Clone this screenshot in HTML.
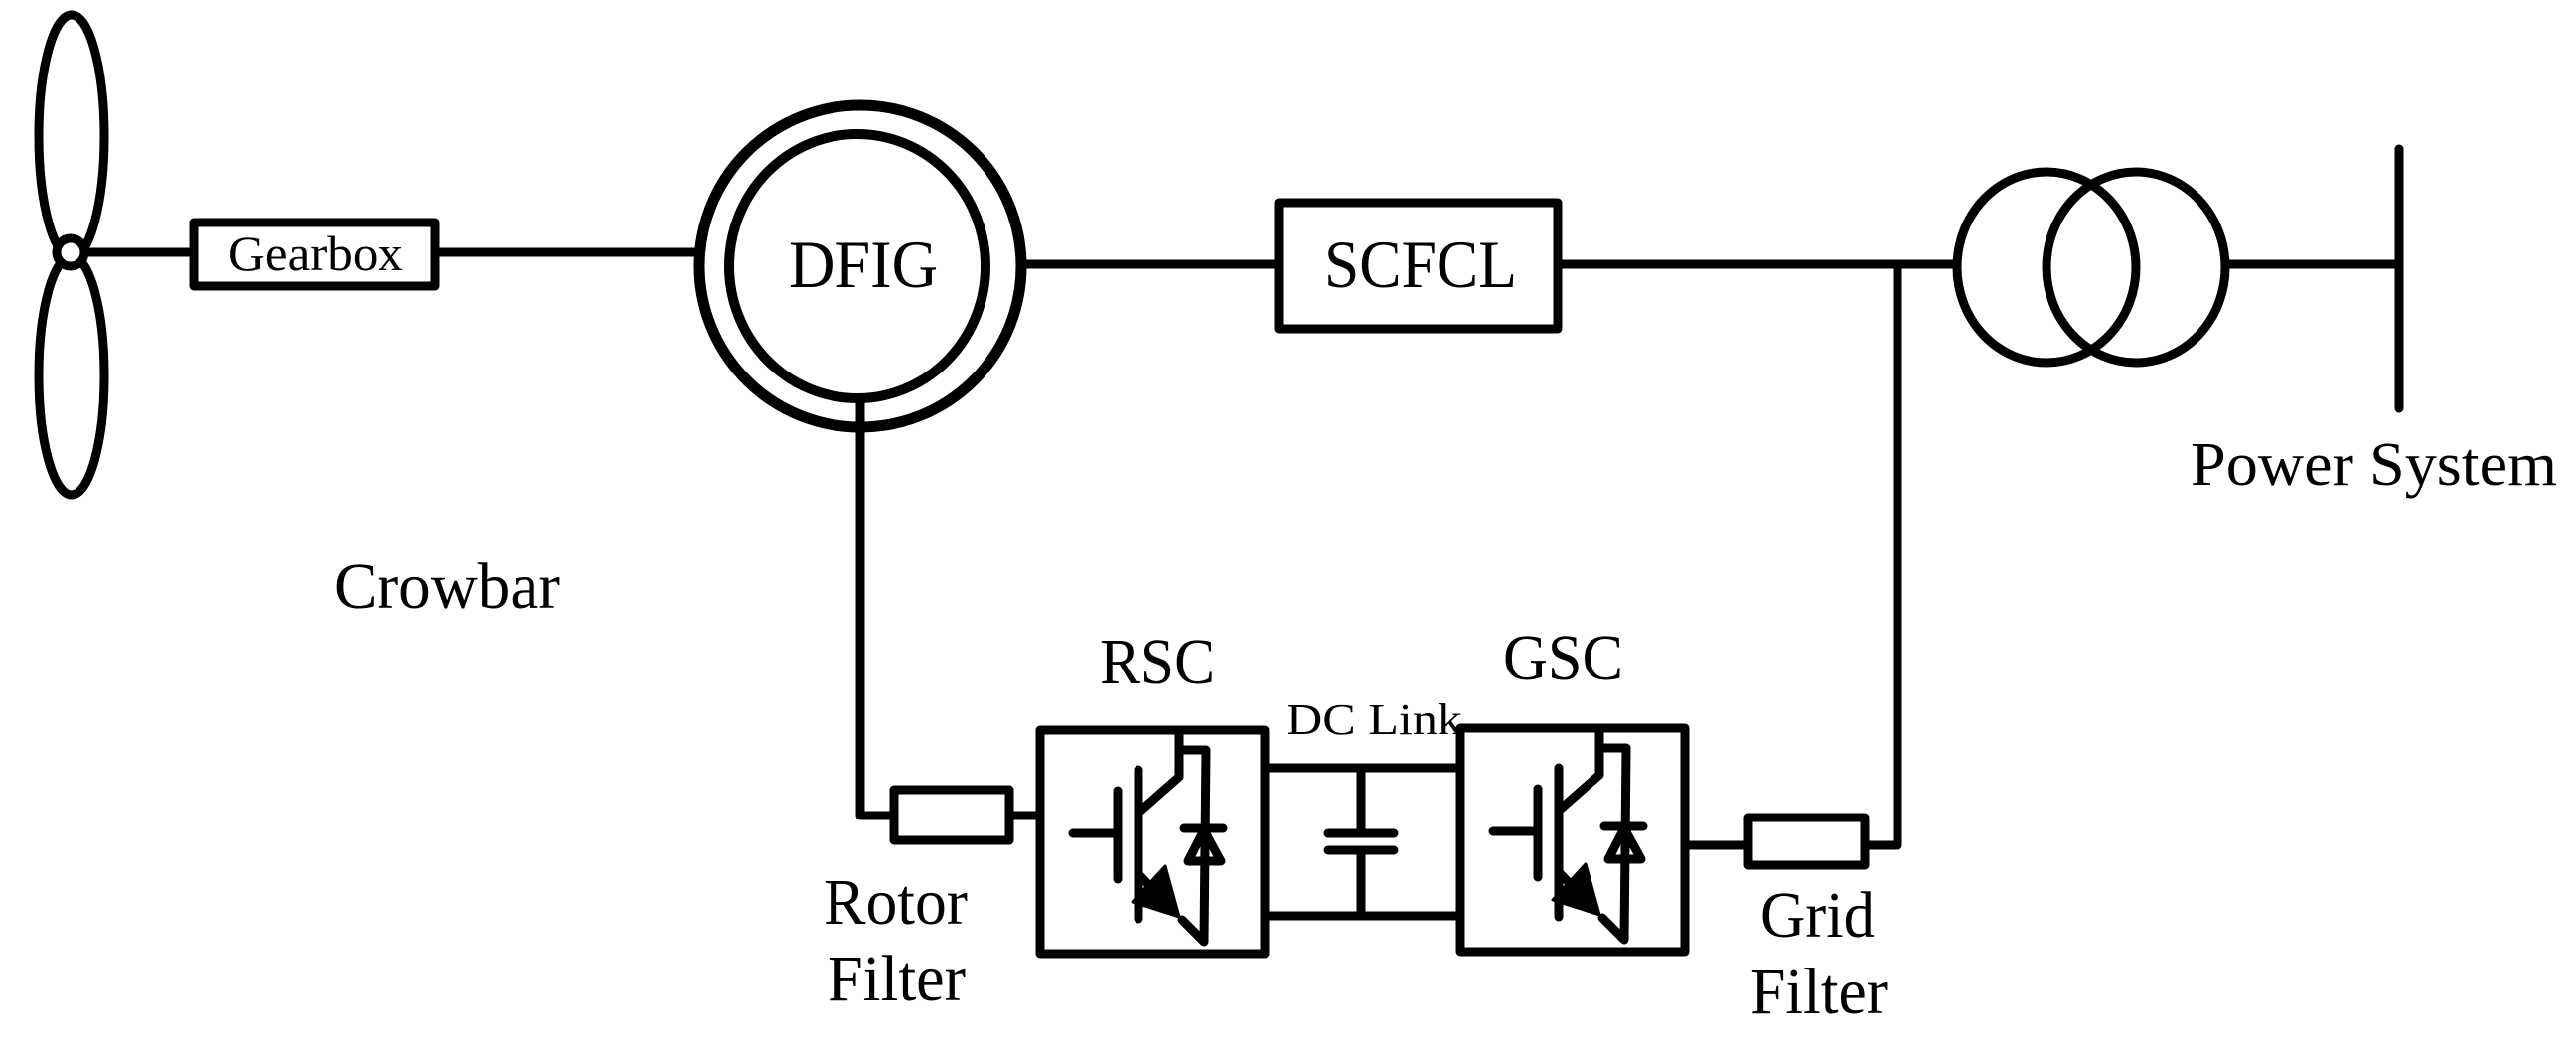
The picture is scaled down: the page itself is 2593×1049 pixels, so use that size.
<!DOCTYPE html>
<html><head><meta charset="utf-8"><style>html,body{margin:0;padding:0;background:#fff}svg{display:block}</style></head>
<body>
<svg width="2593" height="1049" viewBox="0 0 2593 1049" xmlns="http://www.w3.org/2000/svg">
<g fill="none" stroke="#000" stroke-width="9" stroke-linecap="round" stroke-linejoin="round">
<!-- blades -->
<ellipse cx="72" cy="137" rx="33" ry="122"/>
<ellipse cx="72" cy="378" rx="33" ry="120"/>
<circle cx="71" cy="254" r="14" fill="#fff"/>
<line x1="85" y1="254" x2="195" y2="254"/>
<rect x="195" y="224" width="243" height="64"/>
<line x1="438" y1="254" x2="703" y2="254"/>
<!-- DFIG -->
<ellipse cx="866" cy="268" rx="162" ry="162" stroke-width="11"/>
<ellipse cx="863" cy="268" rx="129" ry="133" stroke-width="10"/>
<line x1="1030" y1="266" x2="1287" y2="266"/>
<rect x="1287" y="204" width="281" height="127"/>
<line x1="1568" y1="266" x2="1970" y2="266"/>
<line x1="1910" y1="266" x2="1910" y2="851"/>
<!-- transformer -->
<ellipse cx="2060" cy="269" rx="90" ry="96"/>
<ellipse cx="2150" cy="269" rx="90" ry="96"/>
<line x1="2240" y1="266" x2="2415" y2="266"/>
<line x1="2415" y1="150" x2="2415" y2="411"/>
<!-- rotor path -->
<polyline points="866,401 866,821 900,821"/>
<rect x="900" y="795" width="116" height="51"/>
<line x1="1016" y1="821" x2="1047" y2="821"/>
<!-- DC link -->
<line x1="1273" y1="773" x2="1469" y2="773"/>
<line x1="1273" y1="922" x2="1469" y2="922"/>
<line x1="1370" y1="773" x2="1370" y2="839"/>
<line x1="1370" y1="856" x2="1370" y2="922"/>
<line x1="1337" y1="839" x2="1403" y2="839"/>
<line x1="1337" y1="856" x2="1403" y2="856"/>
<!-- grid filter -->
<line x1="1697" y1="851" x2="1760" y2="851"/>
<rect x="1760" y="823" width="117" height="48"/>
<line x1="1877" y1="851" x2="1910" y2="851"/>
<!-- RSC -->
<g id="conv">
<rect x="1047" y="735" width="226" height="225"/>
<line x1="1080" y1="839" x2="1122" y2="839"/>
<line x1="1125" y1="796" x2="1125" y2="885"/>
<line x1="1146" y1="775" x2="1146" y2="925"/>
<polyline points="1146,818 1187,782 1187,740"/>
<polyline points="1187,755 1214,755 1212,948 1190,926"/>
<line x1="1192" y1="834" x2="1231" y2="834"/>
<polygon points="1212,836 1196,867 1229,867"/>
<line x1="1146" y1="880" x2="1165" y2="900"/>
<polygon points="1140,908 1173,872 1187,923" fill="#000" stroke-width="3"/>
</g>
<g transform="translate(423,-2)">
<rect x="1047" y="735" width="226" height="225"/>
<line x1="1080" y1="839" x2="1122" y2="839"/>
<line x1="1125" y1="796" x2="1125" y2="885"/>
<line x1="1146" y1="775" x2="1146" y2="925"/>
<polyline points="1146,818 1187,782 1187,740"/>
<polyline points="1187,755 1214,755 1212,948 1190,926"/>
<line x1="1192" y1="834" x2="1231" y2="834"/>
<polygon points="1212,836 1196,867 1229,867"/>
<line x1="1146" y1="880" x2="1165" y2="900"/>
<polygon points="1140,908 1173,872 1187,923" fill="#000" stroke-width="3"/>
</g>
</g>
<g font-family="Liberation Serif, serif" fill="#000">
<text x="230" y="272" font-size="50" textLength="176" lengthAdjust="spacingAndGlyphs">Gearbox</text>
<text x="794" y="289" font-size="68" textLength="150" lengthAdjust="spacingAndGlyphs">DFIG</text>
<text x="1333" y="289" font-size="68" textLength="194" lengthAdjust="spacingAndGlyphs">SCFCL</text>
<text x="2205" y="488" font-size="62" textLength="369" lengthAdjust="spacingAndGlyphs">Power System</text>
<text x="336" y="612" font-size="66" textLength="228" lengthAdjust="spacingAndGlyphs">Crowbar</text>
<text x="1107" y="688" font-size="66" textLength="116" lengthAdjust="spacingAndGlyphs">RSC</text>
<text x="1513" y="684" font-size="66" textLength="121" lengthAdjust="spacingAndGlyphs">GSC</text>
<text x="1295" y="739" font-size="44" textLength="177" lengthAdjust="spacingAndGlyphs">DC Link</text>
<text x="829" y="930" font-size="66" textLength="145" lengthAdjust="spacingAndGlyphs">Rotor</text>
<text x="833" y="1007" font-size="66" textLength="139" lengthAdjust="spacingAndGlyphs">Filter</text>
<text x="1772" y="943" font-size="66" textLength="115" lengthAdjust="spacingAndGlyphs">Grid</text>
<text x="1762" y="1020" font-size="66" textLength="138" lengthAdjust="spacingAndGlyphs">Filter</text>
</g>
</svg>
</body></html>
